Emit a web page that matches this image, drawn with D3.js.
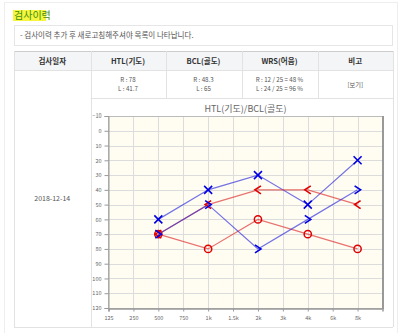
<!DOCTYPE html>
<html>
<head>
<meta charset="utf-8">
<script src="https://cdn.jsdelivr.net/npm/d3@7"></script>
<style>
  body { margin: 0; background: #fff; }
  svg text { font-family: "Noto Sans CJK KR", "Noto Sans", sans-serif; }
</style>
</head>
<body>
<div id="chart"></div>
<script>
// frequencies on the x axis
const freqLabels = ["125", "250", "500", "750", "1k", "1.5k", "2k", "3k", "4k", "6k", "8k"];
const yTicks = [-10, 0, 10, 20, 30, 40, 50, 60, 70, 80, 90, 100, 110, 120];

// measured frequencies (index into freqLabels)
const measuredIdx = [2, 4, 6, 8, 10];
const rightAir = [70, 80, 60, 70, 80];   // O
const leftAir = [60, 40, 30, 50, 20];    // X
const rightBone = [70, 50, 40, 40, 50];  // <
const leftBone = [70, 50, 80, 60, 40];   // >

const headers = ["검사일자", "HTL(기도)", "BCL(골도)", "WRS(어음)", "비고"];
const rowValues = [
    ["R : 78", "L : 41.7"],
    ["R : 48.3", "L : 65"],
    ["R : 12 / 25 = 48 %", "L : 24 / 25 = 96 %"],
    ["[보기]"]
];
const testDate = "2018-12-14";

const W = 400, H = 333;
const svg = d3.select("#chart").append("svg")
    .attr("width", W)
    .attr("height", H);

// outer frame
svg.append("rect")
    .attr("x", 4.5).attr("y", 2.5)
    .attr("width", 393).attr("height", 340)
    .attr("fill", "none").attr("stroke", "#eee");

// section title with highlight
svg.append("rect")
    .attr("x", 13).attr("y", 10)
    .attr("width", 33).attr("height", 11)
    .attr("fill", "#f6f640");
svg.append("text")
    .attr("x", 14).attr("y", 19)
    .attr("font-size", 10)
    .attr("fill", "#3f8f10")
    .text("검사이력");

// notice box
svg.append("rect")
    .attr("x", 14.5).attr("y", 25.5)
    .attr("width", 378).attr("height", 20)
    .attr("fill", "#fff").attr("stroke", "#e6e6e6");
svg.append("text")
    .attr("x", 20).attr("y", 38)
    .attr("font-size", 7.5)
    .attr("fill", "#555")
    .text("- 검사이력 추가 후 새로고침해주셔야 목록이 나타납니다.");

// table
const cols = [14, 90.5, 165.5, 241.5, 317.5, 393];
const tTop = 51, hBottom = 70, rBottom = 98, tBottom = 327;

svg.append("rect")
    .attr("x", cols[0]).attr("y", tTop)
    .attr("width", cols[5] - cols[0]).attr("height", hBottom - tTop)
    .attr("fill", "#f3f5f7");

const lineColor = "#e2e2e2";
[tTop, hBottom, rBottom, tBottom].forEach((y, i) => {
    svg.append("line")
        .attr("x1", i === 2 ? cols[1] : cols[0]).attr("x2", cols[5])
        .attr("y1", y + 0.5).attr("y2", y + 0.5)
        .attr("stroke", i === 0 ? "#ccc" : lineColor);
});
cols.forEach((x, i) => {
    const full = i <= 1 || i === 5;
    svg.append("line")
        .attr("x1", Math.round(x) + 0.5).attr("x2", Math.round(x) + 0.5)
        .attr("y1", tTop).attr("y2", full ? tBottom : rBottom)
        .attr("stroke", lineColor);
});

headers.forEach((h, i) => {
    svg.append("text")
        .attr("x", (cols[i] + cols[i + 1]) / 2)
        .attr("y", 63.5)
        .attr("text-anchor", "middle")
        .attr("font-size", 7.5)
        .attr("font-weight", "bold")
        .attr("fill", "#333")
        .text(h);
});

rowValues.forEach((vals, i) => {
    const cx = (cols[i + 1] + cols[i + 2]) / 2;
    const ys = vals.length === 2 ? [82, 91] : [87];
    vals.forEach((v, j) => {
        svg.append("text")
            .attr("x", cx)
            .attr("y", ys[j])
            .attr("text-anchor", "middle")
            .attr("font-size", 6.2)
            .attr("font-family", "DejaVu Sans Mono, monospace")
            .attr("fill", "#555")
            .text(v);
    });
});

svg.append("text")
    .attr("x", (cols[0] + cols[1]) / 2)
    .attr("y", 201)
    .attr("text-anchor", "middle")
    .attr("font-size", 7)
    .attr("fill", "#555")
    .text(testDate);

// audiogram
const plot = { left: 108.5, right: 382.5, top: 116, bottom: 308 };
const x = d3.scaleLinear().domain([0, freqLabels.length]).range([plot.left, plot.right]);
const y = d3.scaleLinear().domain([-10, 120]).range([plot.top, plot.bottom]);

svg.append("text")
    .attr("x", (plot.left + plot.right) / 2)
    .attr("y", 112)
    .attr("text-anchor", "middle")
    .attr("font-size", 9)
    .attr("fill", "#666")
    .text("HTL(기도)/BCL(골도)");

svg.append("rect")
    .attr("x", plot.left).attr("y", plot.top)
    .attr("width", plot.right - plot.left).attr("height", plot.bottom - plot.top)
    .attr("fill", "#fffcf2");

// grid
svg.append("g").selectAll("line")
    .data(d3.range(1, freqLabels.length))
    .join("line")
    .attr("x1", d => Math.round(x(d)) + 0.5).attr("x2", d => Math.round(x(d)) + 0.5)
    .attr("y1", plot.top).attr("y2", plot.bottom)
    .attr("stroke", "#dcdcdc");
svg.append("g").selectAll("line")
    .data(yTicks.slice(1, -1))
    .join("line")
    .attr("x1", plot.left).attr("x2", plot.right)
    .attr("y1", d => Math.round(y(d)) + 0.5).attr("y2", d => Math.round(y(d)) + 0.5)
    .attr("stroke", "#dcdcdc");

// frame
svg.append("rect")
    .attr("x", plot.left).attr("y", plot.top + 0.5)
    .attr("width", plot.right - plot.left).attr("height", plot.bottom - plot.top)
    .attr("fill", "none").attr("stroke", "#bbb");
svg.append("line")
    .attr("x1", plot.right + 0.5).attr("x2", plot.right + 0.5)
    .attr("y1", plot.top).attr("y2", plot.bottom + 1)
    .attr("stroke", "#999").attr("stroke-width", 2);

// axes
const yAxis = d3.axisLeft(y).tickValues(yTicks).tickSize(4).tickPadding(3);
const gy = svg.append("g")
    .attr("transform", `translate(${plot.left},0)`)
    .call(yAxis);
gy.select(".domain").attr("stroke", "#999");
gy.selectAll(".tick line").attr("stroke", "#999");
gy.selectAll(".tick text").attr("font-size", 5.5).attr("fill", "#666");

const xAxis = d3.axisBottom(x).tickValues(d3.range(freqLabels.length))
    .tickFormat(i => freqLabels[i]).tickSize(3).tickPadding(5);
const gx = svg.append("g")
    .attr("transform", `translate(0,${plot.bottom + 0.5})`)
    .call(xAxis);
gx.select(".domain").attr("stroke", "#999").attr("stroke-width", 1.5);
gx.selectAll(".tick line").attr("stroke", "#999");
gx.selectAll(".tick text").attr("font-size", 5.5).attr("fill", "#666");

// series
const series = [
    { values: rightAir, color: "#e00000", line: "rgba(220,40,40,0.65)", marker: "circle" },
    { values: leftAir, color: "#0000e0", line: "rgba(40,40,220,0.65)", marker: "x" },
    { values: rightBone, color: "#e00000", line: "rgba(220,40,40,0.65)", marker: "lt" },
    { values: leftBone, color: "#0000e0", line: "rgba(40,40,220,0.65)", marker: "gt" }
];

const line = d3.line()
    .x((d, i) => x(measuredIdx[i]))
    .y(d => y(d));

series.forEach(s => {
    svg.append("path")
        .datum(s.values)
        .attr("d", line)
        .attr("fill", "none")
        .attr("stroke", s.line)
        .attr("stroke-width", 1.2);
});

const markerPath = {
    x: "M-4,-4L4,4M-4,4L4,-4",
    lt: "M3,-4L-3,0L3,4",
    gt: "M-3,-4L3,0L-3,4"
};

series.forEach(s => {
    const g = svg.append("g").selectAll("g")
        .data(s.values)
        .join("g")
        .attr("transform", (d, i) => `translate(${x(measuredIdx[i])},${y(d)})`);
    if (s.marker === "circle") {
        g.append("circle")
            .attr("r", 3.6)
            .attr("fill", "none")
            .attr("stroke", s.color)
            .attr("stroke-width", 1.5);
    } else {
        g.append("path")
            .attr("d", markerPath[s.marker])
            .attr("fill", "none")
            .attr("stroke", s.color)
            .attr("stroke-width", 1.6);
    }
});
</script>
</body>
</html>
